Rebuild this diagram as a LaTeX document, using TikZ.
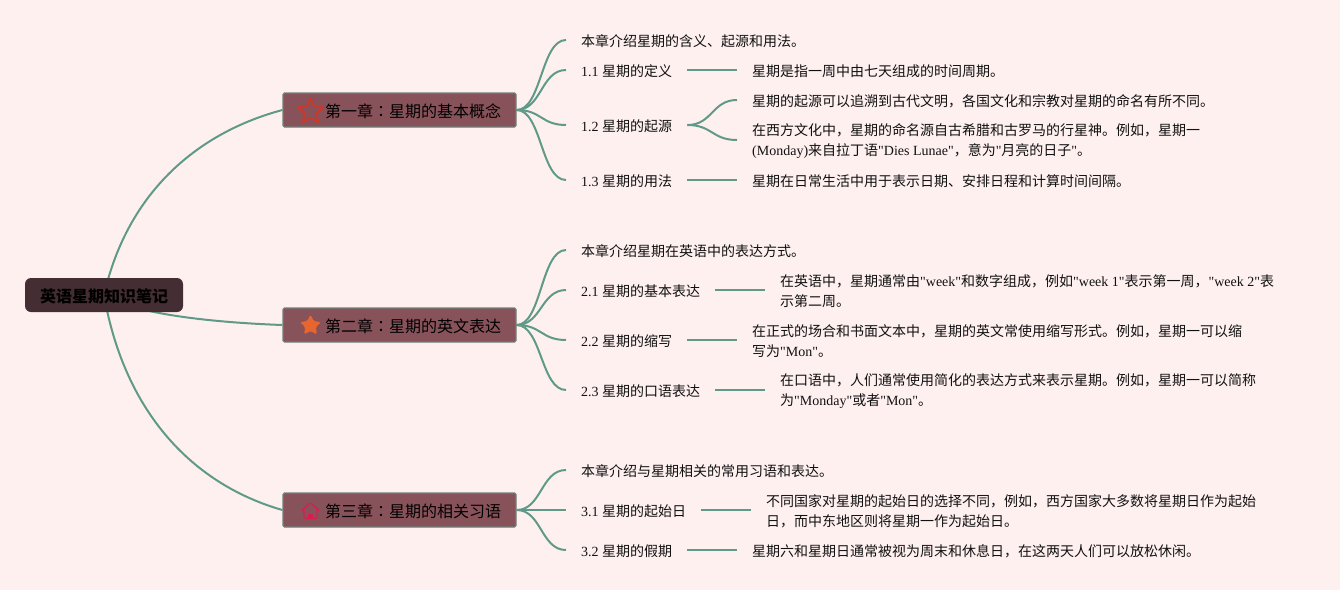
\documentclass[tikz,border=0pt]{standalone}
\usepackage{fontspec}
\setmainfont{Noto Sans CJK SC}
\newfontfamily\latf{Liberation Serif}
\newfontfamily\cjktc{Noto Sans CJK TC}
\newcommand{\lat}[1]{{\latf #1}}
\usetikzlibrary{backgrounds,shapes.geometric}
\definecolor{pagebg}{HTML}{FFF0F0}
\definecolor{rootbg}{HTML}{452E33}
\definecolor{chapbg}{HTML}{87525A}
\definecolor{chapbd}{HTML}{6F8078}
\definecolor{linkc}{HTML}{5F9A88}
\definecolor{iconred}{HTML}{C8392B}
\definecolor{iconorange}{HTML}{E8662E}
\definecolor{iconrose}{HTML}{D81E50}
\definecolor{inkc}{HTML}{111111}
\tikzset{
  rootbox/.style={fill=rootbg,rounded corners=6pt,minimum width=158pt,minimum height=34pt,inner sep=0pt,text height=14pt,text depth=0pt,font=\fontsize{16}{20}\selectfont\bfseries,text=black},
  chapbox/.style={fill=chapbg,draw=chapbd,line width=1.2pt,rounded corners=1.5pt,minimum height=34pt,inner xsep=15pt,inner ysep=0pt,text width=203pt,text height=14pt,text depth=0pt,align=right,font=\fontsize{16}{20}\selectfont,text=black},
  leaf/.style={anchor=west,yshift=-1.5pt,inner xsep=15pt,inner ysep=0pt,align=left,font=\fontsize{14}{20}\selectfont,text=inkc},
  link/.style={draw=linkc,line width=2pt},
  curve/.style={link,to path={.. controls +(25,0) and +(-25,0) .. (\tikztotarget)}},
  iconstar/.style={star,star points=5,inner sep=0pt}
}
\begin{document}
\begin{tikzpicture}[x=1pt,y=-1pt]
\useasboundingbox (0,0) rectangle (1340,590);
% root and chapters
\node[rootbox] (root) at (104,295) {英语星期知识笔记};
\node[chapbox] (c1) at (399.5,110) {第一章{\cjktc ：}星期的基本概念};
\node[chapbox] (c2) at (399.5,325) {第二章{\cjktc ：}星期的英文表达};
\node[chapbox] (c3) at (399.5,510) {第三章{\cjktc ：}星期的相关习语};
% icons
\node[iconstar,star point ratio=2.2,draw=iconred,line width=2pt,rounded corners=1pt,minimum size=27pt] (i1) at (310.5,111.5) {};
\node[iconstar,star point ratio=2.0,fill=iconorange,rounded corners=1.5pt,minimum size=22pt] (i2) at (310.5,325.5) {};
\draw[iconrose,line width=1.4pt,line join=round,line cap=round,rounded corners=1.5pt] (302,510.5) -- (310.5,502.5) -- (319,510.5);
\draw[iconrose,line width=1.4pt,line join=round,line cap=round,rounded corners=1.5pt] (304,509) -- (304,518.5) -- (317,518.5) -- (317,509);
\fill[iconrose] (308,514) rectangle (313,519);
% chapter 1
\node[leaf] (a0) at (566,40) {本章介绍星期的含义、起源和用法。};
\node[leaf] (a1) at (566,70) {\lat{1.1 }星期的定义};
\node[leaf] (a2) at (566,125) {\lat{1.2 }星期的起源};
\node[leaf] (a3) at (566,180) {\lat{1.3 }星期的用法};
\node[leaf] (a1x) at (737,70) {星期是指一周中由七天组成的时间周期。};
\node[leaf] (a2x) at (737,100) {星期的起源可以追溯到古代文明，各国文化和宗教对星期的命名有所不同。};
\node[leaf] (a2y) at (737,140) {在西方文化中，星期的命名源自古希腊和古罗马的行星神。例如，星期一\\\lat{(Monday)}来自拉丁语\lat{"Dies Lunae"}，意为\lat{"}月亮的日子\lat{"}。};
\node[leaf] (a3x) at (737,180) {星期在日常生活中用于表示日期、安排日程和计算时间间隔。};
% chapter 2
\node[leaf] (b0) at (566,250) {本章介绍星期在英语中的表达方式。};
\node[leaf] (b1) at (566,290) {\lat{2.1 }星期的基本表达};
\node[leaf] (b2) at (566,340) {\lat{2.2 }星期的缩写};
\node[leaf] (b3) at (566,390) {\lat{2.3 }星期的口语表达};
\node[leaf] (b1x) at (765,290) {在英语中，星期通常由\lat{"week"}和数字组成，例如\lat{"week 1"}表示第一周，\lat{"week 2"}表\\示第二周。};
\node[leaf] (b2x) at (737,340) {在正式的场合和书面文本中，星期的英文常使用缩写形式。例如，星期一可以缩\\写为\lat{"Mon"}。};
\node[leaf] (b3x) at (765,390) {在口语中，人们通常使用简化的表达方式来表示星期。例如，星期一可以简称\\为\lat{"Monday"}或者\lat{"Mon"}。};
% chapter 3
\node[leaf] (d0) at (566,470) {本章介绍与星期相关的常用习语和表达。};
\node[leaf] (d1) at (566,510) {\lat{3.1 }星期的起始日};
\node[leaf] (d2) at (566,550) {\lat{3.2 }星期的假期};
\node[leaf] (d1x) at (751,510) {不同国家对星期的起始日的选择不同，例如，西方国家大多数将星期日作为起始\\日，而中东地区则将星期一作为起始日。};
\node[leaf] (d2x) at (737,550) {星期六和星期日通常被视为周末和休息日，在这两天人们可以放松休闲。};
% connectors
\begin{scope}[on background layer]
\fill[pagebg] (0,0) rectangle (1340,590);
\draw[link] (root.center) .. controls (128,190) and (200,132) .. (c1.west);
\draw[link] (root.center) .. controls (130,312) and (200,322) .. (c2.west);
\draw[link] (root.center) .. controls (125,415) and (195,485) .. (c3.west);
\foreach \t in {a0,a1,a2,a3} \draw[curve] (c1.east) to ([yshift=1.5pt]\t.west);
\foreach \t in {b0,b1,b2,b3} \draw[curve] (c2.east) to ([yshift=1.5pt]\t.west);
\foreach \t in {d0,d1,d2} \draw[curve] (c3.east) to ([yshift=1.5pt]\t.west);
\draw[link] ([yshift=1.5pt]a1.east) -- ([yshift=1.5pt]a1x.west);
\draw[curve] ([yshift=1.5pt]a2.east) to ([yshift=1.5pt]a2x.west);
\draw[curve] ([yshift=1.5pt]a2.east) to ([yshift=1.5pt]a2y.west);
\draw[link] ([yshift=1.5pt]a3.east) -- ([yshift=1.5pt]a3x.west);
\draw[link] ([yshift=1.5pt]b1.east) -- ([yshift=1.5pt]b1x.west);
\draw[link] ([yshift=1.5pt]b2.east) -- ([yshift=1.5pt]b2x.west);
\draw[link] ([yshift=1.5pt]b3.east) -- ([yshift=1.5pt]b3x.west);
\draw[link] ([yshift=1.5pt]d1.east) -- ([yshift=1.5pt]d1x.west);
\draw[link] ([yshift=1.5pt]d2.east) -- ([yshift=1.5pt]d2x.west);
\end{scope}
\end{tikzpicture}
\end{document}
